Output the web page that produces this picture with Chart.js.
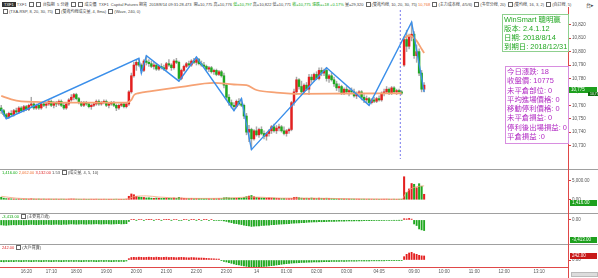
<!DOCTYPE html>
<html>
<head>
<meta charset="utf-8">
<script src="https://cdn.jsdelivr.net/npm/chart.js@4.4.0/dist/chart.umd.min.js"></script>
<style>
body{margin:0;background:#fff;width:598px;height:278px;overflow:hidden;position:relative;font-family:"Liberation Sans",Arial,"Noto Sans CJK TC",sans-serif}
canvas{position:absolute;left:0}
.t{position:absolute;white-space:nowrap;font-size:4px;line-height:5px;color:#444}
.b{display:inline-block;width:3px;height:3px;border:0.5px solid #666;vertical-align:middle;margin:0 1px}
.sep{position:absolute;left:0;width:598px;height:1px;background:#a0a0a0}
.tag{position:absolute;font-size:4.5px;line-height:6px;height:6px;color:#fff;padding-left:2px;white-space:nowrap;overflow:hidden}
.box{position:absolute;font-size:7.4px;white-space:nowrap;font-family:"Liberation Sans","Noto Sans CJK TC",sans-serif}
</style>
</head>
<body>
<!-- header -->
<div class="t" style="left:2px;top:2px"><span style="background:#333;color:#fff;padding:0 2px">TXF1</span> TXF1 <span class="b"></span><span class="b"></span> 台指期 &nbsp;5 分鐘 <span class="b"></span><span class="b"></span> 成交價 &nbsp;TXF1 &nbsp;Capital Futures 期貨 &nbsp;2018/8/14 09:31:28.473 &nbsp;開=10,775 高=10,776 <span style="color:#1a1">低=10,797</span> 高=10,822 低=10,771 <span style="color:#1a1">收=10,775 漲跌=+18 +0.17%</span> 量=29,320 <span class="b"></span>(雙進均線, 10, 20, 30, 75) <span style="color:#f07030">10,768</span> <span class="b"></span>(主力成本線, 4/5/6) <span class="b"></span>(多空分線, 20) <span class="b"></span>(雙均線, 16, 3, 2) <span class="b"></span>(自訂線, 5)</div>
<div class="t" style="left:2px;top:9px"><span class="b"></span>(TXA-RSP, 8, 20, 30, 75) <span class="b"></span>(雙進均線成交量, 4, 8ma) <span class="b"></span>(Wave, 240, 0)</div>
<div class="t" style="left:586px;top:3px;font-size:5px">台▸</div>

<canvas id="main" width="598" height="160" style="top:10px"></canvas>
<canvas id="vol" width="598" height="43" style="top:170px"></canvas>
<canvas id="pow" width="598" height="31" style="top:213px"></canvas>
<canvas id="big" width="598" height="34" style="top:244px"></canvas>

<div class="sep" style="top:169px"></div>
<div class="sep" style="top:213px"></div>
<div class="sep" style="top:244px"></div>
<div style="position:absolute;left:568px;top:7px;width:1px;height:271px;background:#e04848"></div>

<!-- panel headers -->
<div class="t" style="left:2px;top:170px"><span style="color:#1a1">1,416.00</span> <span style="color:#f07030">2,062.00</span> <span style="color:#d22">3,132.00</span> 1.53 <span class="b"></span>(成交量, 4, 5, 10)</div>
<div class="t" style="left:2px;top:214px"><span style="color:#1a1">-3,413.00</span> <span class="b"></span>(主要買力道)</div>
<div class="t" style="left:2px;top:245px"><span style="color:#d22">242.00</span> <span class="b"></span>(大戶買賣)</div>

<!-- last value tags -->
<div class="tag" style="left:569px;top:87px;width:26px;background:#1ea01e">10,775</div>
<div class="tag" style="left:588px;top:92px;width:8px;height:4px;line-height:4px;font-size:3.5px;background:#0d6e0d">10,775</div>
<div class="tag" style="left:570px;top:200px;width:25px;background:#1ea01e">1,416.00</div>
<div class="tag" style="left:570px;top:237px;width:25px;background:#1ea01e">-3,413.00</div>
<div class="tag" style="left:570px;top:253px;width:25px;background:#c81818">242.00</div>
<div style="position:absolute;left:571px;top:272px;width:25px;height:3px;background:#ddd;border:0.5px solid #bbb"></div>

<!-- info boxes -->
<div class="box" style="left:502px;top:14px;width:64px;height:36px;border:1px solid #8fd08f;color:#22a822;line-height:9px;padding-left:1px">WinSmart 聰明贏<br>版本: 2.4.1.12<br>日期: 2018/8/14<br>到期日: 2018/12/31</div>
<div class="box" style="left:505px;top:66px;width:61px;height:76px;border:1px solid #d88ee0;color:#b22cc4;line-height:9.3px;padding-left:1px">今日漲跌: 18<br>收盤價: 10775<br>未平倉部位: 0<br>平均進場價格: 0<br>移動停利價格: 0<br>未平倉損益: 0<br>停利後出場損益: 0<br>平倉損益 :0</div>

<script>
// candles, 5 minute bars (night session then day session)
const opens = [
  10758,10756,10753,10751,10754,10753,10756,10755,10758,10756,
  10759,10757,10760,10761,10758,10760,10758,10761,10760,10761,
  10763,10760,10762,10761,10763,10760,10758,10761,10764,10766,
  10768,10765,10762,10760,10762,10761,10759,10760,10761,10763,
  10761,10762,10763,10760,10761,10762,10760,10758,10760,10761,
  10759,10761,10770,10782,10790,10792,10790,10786,10793,10792,
  10791,10789,10790,10787,10789,10788,10787,10791,10790,10788,
  10793,10792,10780,10786,10789,10791,10790,10793,10792,10794,
  10791,10790,10789,10787,10788,10785,10786,10783,10785,10782,
  10775,10766,10762,10760,10759,10763,10761,10760,10752,10740,
  10742,10735,10741,10738,10742,10739,10737,10739,10741,10744,
  10741,10743,10744,10741,10739,10741,10742,10762,10770,10779,
  10774,10770,10775,10772,10781,10779,10783,10780,10786,10784,
  10786,10780,10782,10779,10776,10773,10774,10769,10772,10770,
  10771,10770,10767,10769,10770,10766,10764,10765,10762,10764,
  10763,10765,10764,10769,10770,10772,10769,10773,10770,10771,
  10770,10790,10809,10804,10811,10813,10797,10800,10784,10772
];
const highs = [
  10760,10757,10754,10755,10756,10757,10758,10759,10759,10760,
  10760,10761,10766,10762,10761,10761,10762,10763,10762,10764,
  10764,10763,10763,10764,10764,10762,10762,10765,10768,10769,
  10769,10766,10763,10763,10763,10762,10761,10762,10764,10764,
  10763,10764,10764,10762,10763,10763,10761,10761,10762,10762,
  10762,10771,10784,10792,10794,10795,10791,10794,10797,10794,
  10793,10792,10791,10790,10791,10790,10792,10794,10791,10794,
  10795,10793,10787,10790,10792,10793,10794,10795,10796,10795,
  10793,10792,10790,10789,10789,10787,10787,10786,10786,10784,
  10776,10768,10764,10762,10764,10765,10765,10761,10754,10745,
  10743,10742,10744,10743,10744,10741,10740,10742,10745,10746,
  10745,10746,10745,10744,10742,10743,10763,10772,10781,10780,
  10778,10776,10777,10783,10783,10784,10785,10788,10788,10787,
  10788,10783,10784,10781,10778,10776,10775,10773,10774,10772,
  10773,10772,10770,10771,10771,10768,10767,10766,10765,10766,
  10766,10767,10770,10772,10774,10773,10774,10774,10772,10772,
  10771,10811,10816,10813,10822,10815,10805,10802,10786,10777
];
const lows = [
  10754,10752,10750,10750,10752,10752,10754,10754,10755,10755,
  10756,10756,10759,10757,10757,10757,10757,10759,10758,10760,
  10759,10758,10759,10760,10759,10757,10757,10760,10763,10764,
  10764,10761,10759,10759,10760,10758,10757,10759,10760,10760,
  10760,10761,10759,10758,10760,10759,10756,10757,10759,10758,
  10758,10760,10769,10781,10786,10789,10784,10785,10790,10789,
  10788,10787,10786,10786,10787,10786,10786,10789,10786,10787,
  10791,10778,10779,10785,10788,10789,10789,10791,10790,10790,
  10789,10788,10786,10785,10784,10783,10782,10782,10781,10773,
  10764,10760,10758,10756,10758,10760,10759,10750,10738,10733,
  10727,10734,10737,10736,10738,10735,10734,10737,10739,10740,
  10739,10741,10740,10738,10737,10739,10741,10760,10768,10772,
  10768,10769,10771,10768,10777,10778,10779,10779,10782,10782,
  10778,10777,10778,10774,10771,10770,10768,10768,10769,10767,
  10769,10766,10765,10767,10764,10762,10762,10760,10761,10762,
  10762,10763,10763,10767,10769,10768,10768,10769,10768,10769,
  10768,10789,10800,10802,10808,10795,10792,10782,10770,10770
];
const closes = [
  10756,10753,10751,10754,10753,10756,10755,10758,10756,10759,
  10757,10760,10761,10758,10760,10758,10761,10760,10761,10763,
  10760,10762,10761,10763,10760,10758,10761,10764,10766,10768,
  10765,10762,10760,10762,10761,10759,10760,10761,10763,10761,
  10762,10763,10760,10761,10762,10760,10758,10760,10761,10759,
  10761,10770,10782,10790,10792,10790,10786,10793,10792,10791,
  10789,10790,10787,10789,10788,10787,10791,10790,10788,10793,
  10792,10780,10786,10789,10791,10790,10793,10792,10794,10791,
  10790,10789,10787,10788,10785,10786,10783,10785,10782,10775,
  10766,10762,10760,10759,10763,10761,10760,10752,10740,10742,
  10735,10741,10738,10742,10739,10737,10739,10741,10744,10741,
  10743,10744,10741,10739,10741,10742,10762,10770,10779,10774,
  10770,10775,10772,10781,10779,10783,10780,10786,10784,10786,
  10780,10782,10779,10776,10773,10774,10769,10772,10770,10771,
  10770,10767,10769,10770,10766,10764,10765,10762,10764,10763,
  10765,10764,10769,10770,10772,10769,10773,10770,10771,10770,
  10769,10809,10804,10811,10813,10797,10800,10784,10772,10775
];

// orange average line (night / day), read at anchor bars
const maNightIdx = [0,4,8,14,24,50,52,53,55,60,72,85,93,98,102,110,120,140,160];
const maNightVal = [10767,10764.5,10763,10762.5,10762,10762,10764,10767.5,10769,10770.5,10773.7,10776.7,10775.5,10775,10771.4,10769.5,10768.5,10768.8,10769];
const maDayIdx = [161,163,164,166,168,169];
const maDayVal = [10810,10812,10811.5,10808,10802,10799];

// blue zigzag turning points
const zzIdx = [0,2,55,56,58,71,78,93,96,100,130,147,164,169];
const zzVal = [10757,10750,10795,10784,10797,10778,10796,10756,10765,10727,10788,10760,10822,10770];

const volumes = [
  650,420,300,280,250,220,200,240,180,200,
  210,180,260,190,170,200,160,180,150,170,
  160,150,170,140,160,150,130,170,210,190,
  160,140,130,150,120,130,140,120,150,130,
  120,140,130,110,120,130,150,120,110,130,
  180,900,1500,1300,900,700,650,600,480,520,
  420,380,450,400,350,380,420,360,340,450,
  380,620,450,380,350,330,380,300,350,320,
  300,280,320,290,260,300,280,320,300,500,
  560,480,420,400,380,420,390,600,800,950,
  1100,780,620,540,480,450,420,500,460,420,
  380,350,320,340,300,320,350,600,650,520,
  420,380,400,360,450,380,350,420,380,360,
  400,380,340,300,280,260,250,230,220,210,
  200,190,180,170,160,170,150,160,150,140,
  150,130,140,150,160,140,130,150,120,140,
  150,5950,1900,2800,4200,4000,3100,4150,3500,1416
];
const volMaIdx = [0,6,15,50,53,58,63,70,80,90,99,104,112,125,140,160,162,165,169];
const volMaVal = [900,420,200,160,800,1000,700,450,350,400,700,650,420,400,250,160,2000,3200,3600];

const powerVals = [
  -1600,-1700,-1750,-1650,-1600,-1550,-1600,-1500,-1550,-1600,
  -1550,-1500,-1450,-1500,-1550,-1500,-1450,-1500,-1400,-1450,
  -1500,-1450,-1400,-1450,-1500,-1400,-1450,-1350,-1300,-1350,
  -1400,-1350,-1300,-1350,-1400,-1300,-1350,-1300,-1250,-1300,
  -1350,-1300,-1250,-1300,-1350,-1300,-1250,-1200,-1300,-1250,
  -1200,-500,150,120,-100,180,150,-120,140,100,
  120,-100,160,130,-110,150,100,120,-100,160,
  140,-150,-120,130,150,-100,120,140,-90,100,
  -120,130,110,-100,140,-120,-150,-100,-180,-300,
  -500,-700,-900,-1100,-1200,-1400,-1500,-1700,-1850,-1950,
  -2100,-2050,-1950,-1900,-1800,-1750,-1700,-1650,-1550,-1500,
  -1450,-1400,-1350,-1300,-1250,-1200,-1100,-1050,-1000,-950,
  -900,-850,-800,-750,-700,-650,-650,-600,-600,-550,
  -550,-500,-500,-450,-450,-400,-400,-400,-350,-350,
  -350,-300,-300,-300,-300,-250,-250,-250,-250,-200,
  -200,-200,-200,-180,-160,-150,-150,-120,-120,-100,
  -100,380,320,480,250,-1300,-1800,-2900,-3200,-3413
];
const bigVals = [
  -100,-110,-90,-100,-90,-100,-80,-90,-100,-90,
  -80,-90,-100,-90,-80,-90,-100,-90,-80,-90,
  -100,-90,-80,-90,-100,-90,-80,-90,-80,-90,
  -80,-90,-100,-90,-80,-90,-80,-90,-100,-90,
  -80,-90,-80,-90,-100,-90,-80,-90,-80,-90,
  -60,80,150,160,150,170,160,150,160,170,
  160,150,170,160,150,160,170,150,160,150,
  140,150,160,150,140,130,150,140,130,120,
  120,110,100,90,80,70,60,50,-40,-80,
  -120,-160,-200,-240,-280,-300,-330,-360,-380,-400,
  -420,-430,-420,-410,-400,-390,-380,-360,-340,-320,
  -300,-280,-260,-240,-220,-200,-190,-180,-170,-160,
  -150,-140,-140,-130,-130,-120,-120,-110,-110,-100,
  -100,-100,-90,-90,-90,-80,-80,-80,-80,-70,
  -70,-70,-70,-60,-60,-60,-60,-60,-50,-50,
  -50,-50,-50,-50,-40,-40,-40,-40,-40,-40,
  -40,200,340,420,460,380,340,280,250,242
];

const tickIndex = [10,20,30,42,54,66,78,90,102,114,126,138,151,165,177,189,201,215];
const tickText = ["16:20","17:10","18:00","19:00","20:00","21:00","22:00","23:00","14","01:00","02:00","03:00","04:05","09:00","10:00","11:00","12:00","13:10"];
const priceTicks = [10730,10740,10750,10760,10770,10780,10790,10800,10810,10820];

// 227 slots of 5 minutes: night 15:30-04:55, day 08:45-13:45 and blank space
const slots = [];
for (let i = 0; i < 227; i++) slots.push("s" + i);

const RED = "#e42020", GREEN = "#20a820";
const barUp = closes.map((c, i) => c >= opens[i]);

function sparse(idx, val) {
  const a = new Array(closes.length).fill(null);
  idx.forEach((k, j) => { a[k] = val[j]; });
  return a;
}

function opts(yMin, yMax, yTicks, yFmt, showX) {
  return {
    responsive: false,
    animation: false,
    events: [],
    layout: { padding: 0 },
    plugins: { legend: { display: false }, tooltip: { enabled: false } },
    scales: {
      x: {
        type: "category",
        display: showX,
        offset: true,
        grid: { display: false, drawTicks: false, tickLength: 0 },
        border: { display: true, color: "#e04848", width: 1 },
        ticks: {
          autoSkip: false, maxRotation: 0, minRotation: 0, padding: 2,
          font: { size: 4.5 }, color: "#555",
          callback: (v) => tickText[tickIndex.indexOf(v)]
        },
        afterBuildTicks: (s) => { s.ticks = tickIndex.map((v) => ({ value: v })); },
        afterFit: (s) => { s.height = 11; s.paddingLeft = 0; s.paddingRight = 0; }
      },
      y: {
        position: "right",
        min: yMin,
        max: yMax,
        grid: { display: true, drawOnChartArea: false, tickLength: 3, color: "#d04040" },
        border: { display: false },
        ticks: { font: { size: 4.5 }, color: "#555", padding: 1, callback: yFmt },
        afterBuildTicks: (s) => { s.ticks = yTicks.map((v) => ({ value: v })); },
        afterFit: (s) => { s.width = 30; s.paddingTop = 0; s.paddingBottom = 0; }
      }
    }
  };
}

// dashed line at the day session break
const sessionLine = {
  id: "sessionLine",
  beforeDatasetsDraw(chart) {
    const x = (chart.scales.x.getPixelForValue(159) + chart.scales.x.getPixelForValue(160)) / 2;
    const ctx = chart.ctx;
    ctx.save();
    ctx.strokeStyle = "#8d8ff0";
    ctx.lineWidth = 1.2;
    ctx.setLineDash([2, 2]);
    ctx.beginPath();
    ctx.moveTo(x, 0);
    ctx.lineTo(x, chart.chartArea.bottom);
    ctx.stroke();
    ctx.restore();
  }
};

new Chart(document.getElementById("main"), {
  type: "bar",
  data: {
    labels: slots,
    datasets: [
      { type: "line", data: sparse(zzIdx, zzVal), borderColor: "#3b8fea", borderWidth: 1.4, pointRadius: 0, spanGaps: true, tension: 0, order: -2 },
      { type: "line", data: sparse(maNightIdx, maNightVal), borderColor: "#f6a274", borderWidth: 1.8, pointRadius: 0, spanGaps: true, cubicInterpolationMode: "monotone", order: -1 },
      { type: "line", data: sparse(maDayIdx, maDayVal), borderColor: "#f6a274", borderWidth: 1.8, pointRadius: 0, spanGaps: true, cubicInterpolationMode: "monotone", order: -1 },
      { data: opens.map((o, i) => [o, closes[i]]), backgroundColor: barUp.map((u) => (u ? RED : GREEN)), barThickness: 1.8, minBarLength: 1, grouped: false, order: 1 },
      { data: lows.map((l, i) => [l, highs[i]]), backgroundColor: "#a8a8a8", barThickness: 0.8, grouped: false, order: 2 }
    ]
  },
  options: opts(10720, 10831, priceTicks, (v) => v.toLocaleString("en-US"), false),
  plugins: [sessionLine]
});

const fmt2 = (v) => v.toLocaleString("en-US", { minimumFractionDigits: 2, maximumFractionDigits: 2 });

new Chart(document.getElementById("vol"), {
  type: "bar",
  data: {
    labels: slots,
    datasets: [
      { type: "line", data: sparse(volMaIdx, volMaVal), borderColor: "#f4a27a", borderWidth: 0.8, pointRadius: 0, spanGaps: true, cubicInterpolationMode: "monotone", order: -1 },
      { data: volumes, backgroundColor: barUp.map((u) => (u ? RED : GREEN)), barThickness: 1.4, order: 1 }
    ]
  },
  options: opts(-577, 7690, [0, 5000], fmt2, false)
});

new Chart(document.getElementById("pow"), {
  type: "bar",
  data: {
    labels: slots,
    datasets: [
      { data: powerVals, backgroundColor: powerVals.map((v) => (v >= 0 ? RED : GREEN)), barThickness: 1.2 }
    ]
  },
  options: opts(-4202, 2215, [0], fmt2, false)
});

new Chart(document.getElementById("big"), {
  type: "bar",
  data: {
    labels: slots,
    datasets: [
      { data: bigVals, backgroundColor: bigVals.map((v) => (v >= 0 ? RED : GREEN)), barThickness: 1.2 }
    ]
  },
  options: opts(-420, 960, [0], fmt2, true)
});
</script>
</body>
</html>
